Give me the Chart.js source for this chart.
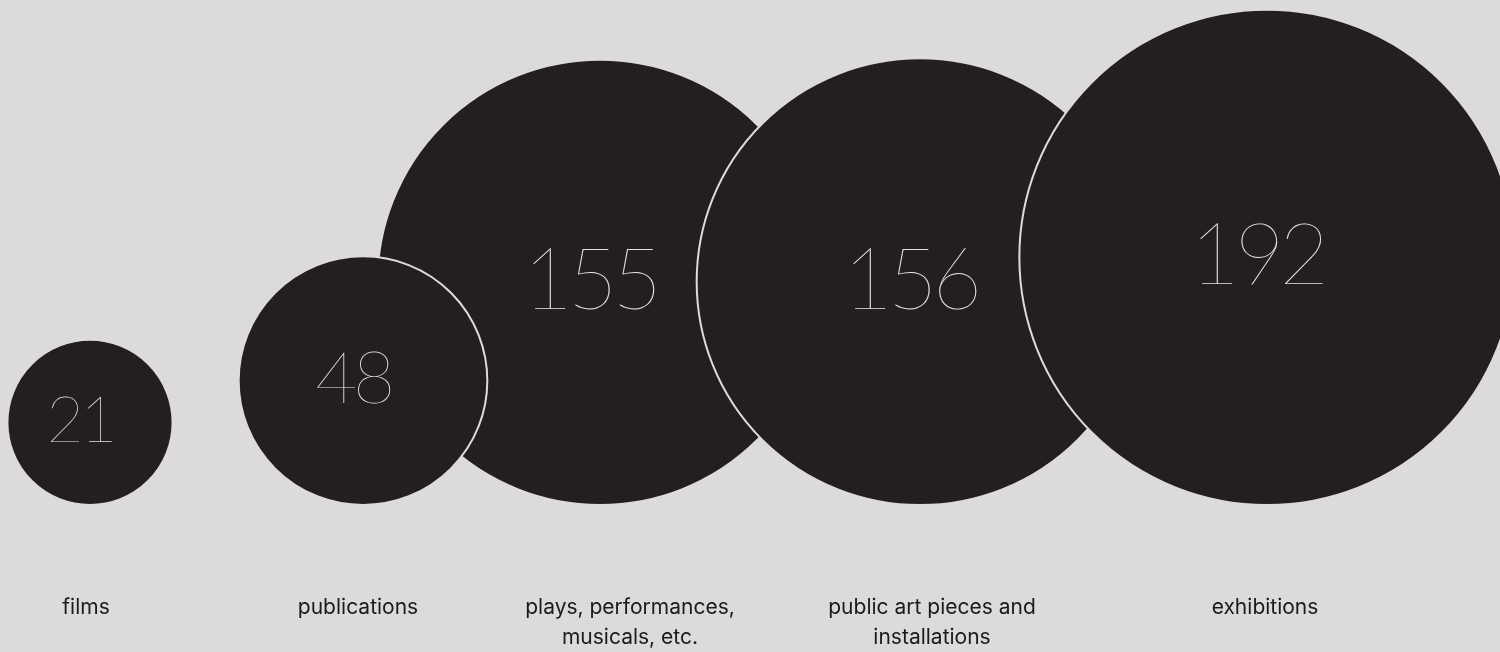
<!DOCTYPE html>
<html>
<head>
<meta charset="utf-8">
<script src="https://cdn.jsdelivr.net/npm/chart.js@4/dist/chart.umd.min.js"></script>
<style>
  html, body { margin: 0; padding: 0; background: #dcdbd9; }
  #wrap { width: 1500px; height: 652px; }
</style>
</head>
<body>
<div id="wrap"><canvas id="chart"></canvas></div>
<script>
// Output counts per category
const categories = ['films', 'publications', 'plays, performances, musicals, etc.', 'public art pieces and installations', 'exhibitions'];
const tickLabels = [['films'], ['publications'], ['plays, performances,', 'musicals, etc.'], ['public art pieces and', 'installations'], ['exhibitions']];
const counts = [21, 48, 155, 156, 192];

// Horizontal placement of each bubble and of each caption on the x axis
const bubbleX = [90, 363, 600, 920, 1267];
const labelX = [86, 358, 630, 932, 1265];

// Which bubble sits above which (lower value = drawn later, on top)
const layer = [4, 3, 5, 2, 1];

const BG = '#dcdbd9';
const INK = '#231f20';
const RING = 2;                    // light outline separating overlapping bubbles
const AREA_SCALE = 17.8;           // px of radius per sqrt(count)
const radiusOf = v => AREA_SCALE * Math.sqrt(v);

const datasets = categories.map((name, i) => ({
  label: name,
  order: layer[i],
  // the outline is centred on the edge, so grow r by half of it to keep the dark disc at radiusOf()
  data: [{ x: bubbleX[i], y: radiusOf(counts[i]), r: radiusOf(counts[i]) + RING / 2, v: counts[i] }],
  backgroundColor: INK,
  borderColor: BG,
  borderWidth: RING,
  hoverBorderWidth: RING,
  clip: false
}));

// Writes the count in thin numerals inside each bubble, right after that bubble is painted
const countLabels = {
  id: 'countLabels',
  afterDatasetDraw(chart, args) {
    const el = args.meta.data[0];
    const raw = chart.data.datasets[args.index].data[0];
    const r = raw.r;
    const size = Math.min(86, 48 + 0.2 * r);
    const ctx = chart.ctx;
    ctx.save();
    ctx.font = `100 ${size}px Lato, Roboto, "DejaVu Sans", sans-serif`;
    ctx.letterSpacing = `${(-0.06 * size).toFixed(1)}px`;
    ctx.fillStyle = '#e4e3e1';
    ctx.textAlign = 'center';
    ctx.textBaseline = 'alphabetic';
    ctx.fillText(String(raw.v), el.x - 10, el.y + size * 0.36 - 4);
    ctx.restore();
  }
};

new Chart(document.getElementById('chart'), {
  type: 'bubble',
  data: { datasets },
  plugins: [countLabels],
  options: {
    responsive: true,
    maintainAspectRatio: false,
    animation: false,
    events: [],
    layout: { autoPadding: false, padding: { left: 0, right: 0, top: 0, bottom: -1 } },
    plugins: { legend: { display: false }, tooltip: { enabled: false } },
    scales: {
      x: {
        type: 'linear',
        min: 0,
        max: 1500,
        position: 'bottom',
        border: { display: false },
        grid: { display: false, drawTicks: true, tickLength: 89 },
        afterBuildTicks: scale => { scale.ticks = labelX.map(value => ({ value })); },
        ticks: {
          autoSkip: false,
          maxRotation: 0,
          padding: 0,
          color: '#1c1b1b',
          font: { family: 'Inter, Roboto, "Liberation Sans", sans-serif', size: 21, lineHeight: 30 / 21 },
          callback: (value, index) => tickLabels[index]
        }
      },
      y: {
        type: 'linear',
        display: false,
        min: 0,
        max: 504
      }
    }
  }
});
</script>
</body>
</html>
